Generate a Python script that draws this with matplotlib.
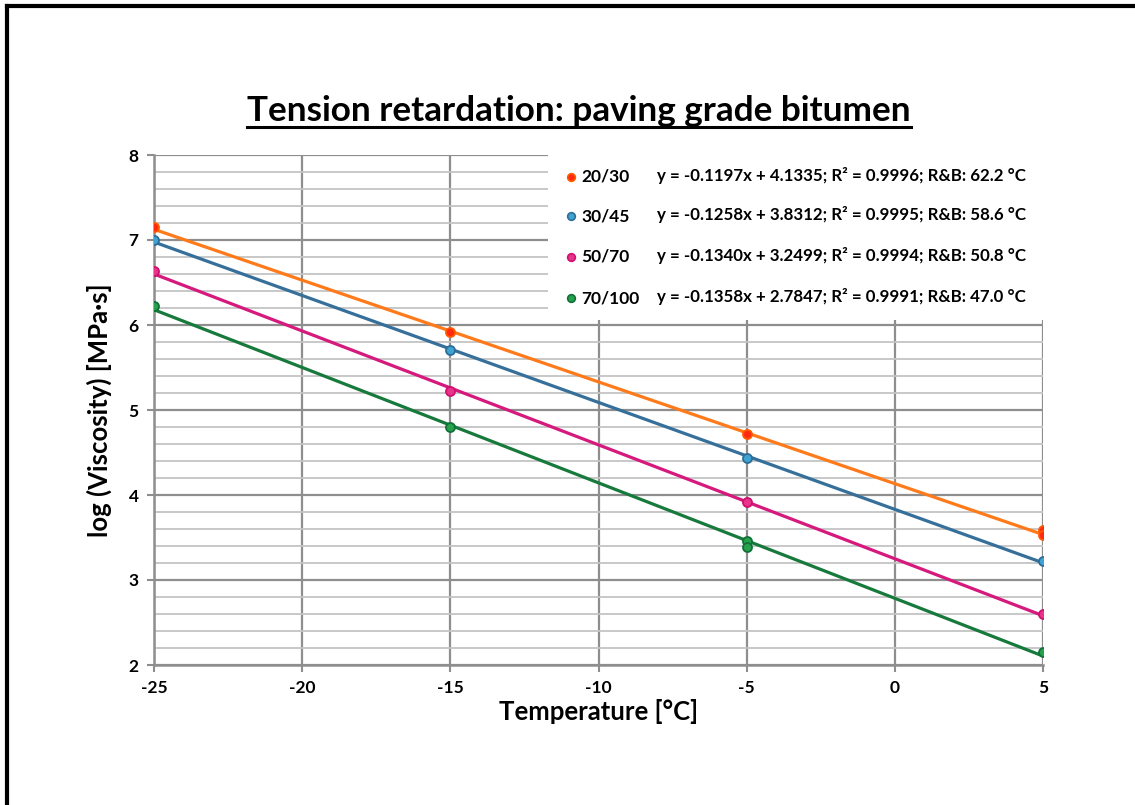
import matplotlib
matplotlib.use("Agg")
import matplotlib.pyplot as plt
from matplotlib.lines import Line2D
from matplotlib.patches import Rectangle
from matplotlib.ticker import MultipleLocator
import numpy as np

plt.rcParams['font.family'] = ['Lato', 'DejaVu Sans']
plt.rcParams['axes.unicode_minus'] = False

# ---- data ----
grades = ["20/30", "30/45", "50/70", "70/100"]
x_2030 = [-25, -15, -5, 5, 5]
y_2030 = [7.15, 5.92, 4.72, 3.59, 3.53]
x_3045 = [-25, -15, -5, 5]
y_3045 = [7.00, 5.71, 4.44, 3.22]
x_5070 = [-25, -15, -5, 5]
y_5070 = [6.64, 5.22, 3.92, 2.60]
x_70100 = [-25, -15, -5, -5, 5]
y_70100 = [6.22, 4.80, 3.46, 3.39, 2.15]
slopes = [-0.1197, -0.1258, -0.1340, -0.1358]
intercepts = [4.1335, 3.8312, 3.2499, 2.7847]
r_squared = [0.9996, 0.9995, 0.9994, 0.9991]
rb_temps = [62.2, 58.6, 50.8, 47.0]
x_ticks = [-25, -20, -15, -10, -5, 0, 5]
y_ticks = [2, 3, 4, 5, 6, 7, 8]

xs = [x_2030, x_3045, x_5070, x_70100]
ys = [y_2030, y_3045, y_5070, y_70100]
line_colors = ["#FF7A1A", "#36709A", "#D6197C", "#177A3C"]
face_colors = ["#FF2A10", "#3FA3D4", "#E8358C", "#25A24A"]
edge_colors = ["#FF5A00", "#2E6E96", "#D0106E", "#12703A"]

W, H = 1135, 805
fig = plt.figure(figsize=(W / 100, H / 100), dpi=100)
fig.patch.set_facecolor("white")

# frame lines (top and left)
fig.add_artist(Line2D([7 / W, 7 / W], [0, 1 - 6 / H], color="black", lw=3, transform=fig.transFigure))
fig.add_artist(Line2D([7 / W, 1], [1 - 6 / H, 1 - 6 / H], color="black", lw=3, transform=fig.transFigure))

left, right, top, bottom = 154, 1043, 155, 665
ax = fig.add_axes([left / W, 1 - bottom / H, (right - left) / W, (bottom - top) / H])
ax.set_xlim(-25, 5)
ax.set_ylim(2, 8)
ax.set_xticks(x_ticks)
ax.set_yticks(y_ticks)
ax.yaxis.set_minor_locator(MultipleLocator(0.2))
ax.grid(True, which="major", color="#8E8E8E", lw=1.6, zorder=0)
ax.grid(True, which="minor", axis="y", color="#C4C4C4", lw=1.3, zorder=0)
ax.tick_params(which="minor", length=0)
ax.tick_params(which="major", length=5, color="#8E8E8E", width=1.5, labelsize=12.5, pad=6)
for lbl in ax.get_xticklabels() + ax.get_yticklabels():
    lbl.set_fontweight("bold")
for s in ["top", "right"]:
    ax.spines[s].set_visible(False)
for s in ["left", "bottom"]:
    ax.spines[s].set_color("#8E8E8E")
    ax.spines[s].set_linewidth(1.8)
ax.set_axisbelow(True)

xfit = np.array([x_ticks[0], x_ticks[-1]])
for i in range(len(grades)):
    ax.plot(xfit, slopes[i] * xfit + intercepts[i], color=line_colors[i], lw=2.3, zorder=3)
    ax.plot(xs[i], ys[i], "o", ms=6.5, mfc=face_colors[i], mec=edge_colors[i], mew=1.3, zorder=4)

# legend box
ax.add_patch(Rectangle(((548 - left) / (right - left), 1 - (320 - top) / (bottom - top)),
                       (right - 548) / (right - left), (320 - top) / (bottom - top),
                       transform=ax.transAxes, facecolor="white", edgecolor="none", zorder=5))
row_y = [177, 216, 257, 298]
for i in range(len(grades)):
    yy = 1 - (row_y[i] - top) / (bottom - top)
    ax.plot([(571 - left) / (right - left)], [yy], "o", ms=5.5, mfc=face_colors[i], mec=edge_colors[i],
            mew=1.2, transform=ax.transAxes, zorder=6, clip_on=False)
    ax.text((581 - left) / (right - left), yy, grades[i], transform=ax.transAxes, fontsize=12.5,
            fontweight="bold", va="center", ha="left", zorder=6)
    eq = "y = {:.4f}x + {:.4f}; R² = {:.4f}; R&B: {:.1f} °C".format(slopes[i], intercepts[i], r_squared[i], rb_temps[i])
    ax.text((657 - left) / (right - left), yy + 0.003, eq, transform=ax.transAxes, fontsize=12.2,
            fontweight="bold", va="center", ha="left", zorder=6)

ax.set_xlabel("Temperature [°C]", fontsize=18.5, fontweight="bold", labelpad=2)
ax.set_ylabel("log (Viscosity) [MPa·s]", fontsize=18.5, fontweight="bold", labelpad=12)

title = fig.text(579 / W, 1 - 111 / H, "Tension retardation: paving grade bitumen", fontsize=25.3,
                 fontweight="bold", ha="center", va="center")
fig.canvas.draw()
bb = title.get_window_extent(fig.canvas.get_renderer())
fig.add_artist(Line2D([bb.x0 / W, bb.x1 / W], [1 - 127 / H, 1 - 127 / H], color="black", lw=2.2,
                      transform=fig.transFigure))

fig.savefig("out.png", dpi=100)
